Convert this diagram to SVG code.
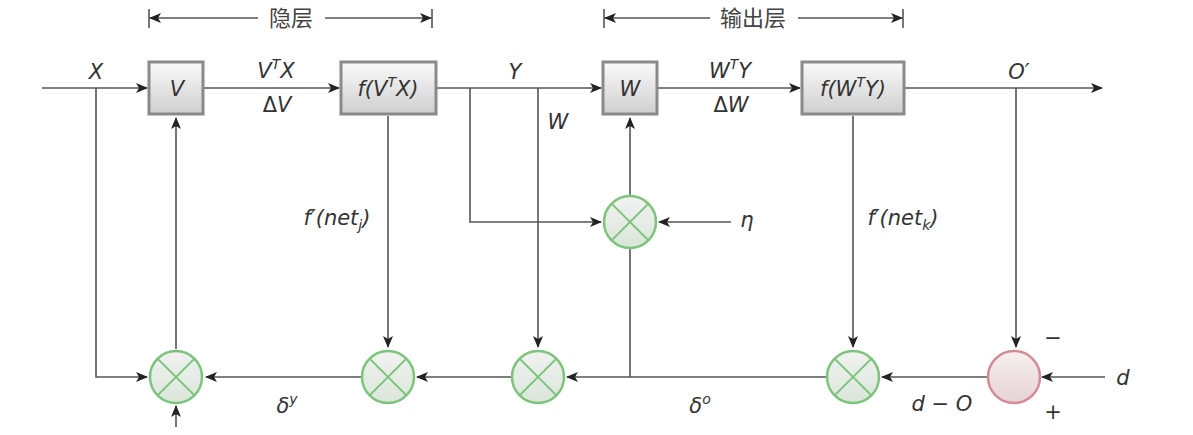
<svg xmlns="http://www.w3.org/2000/svg" width="1193" height="435" viewBox="0 0 1193 435">
<defs>
<linearGradient id="gbox" x1="0" y1="0" x2="0" y2="1"><stop offset="0" stop-color="#fafafa"/><stop offset="1" stop-color="#cfcfcf"/></linearGradient>
<linearGradient id="ggreen" x1="0" y1="0" x2="0" y2="1"><stop offset="0" stop-color="#f2f2f2"/><stop offset="1" stop-color="#d9e6d9"/></linearGradient>
<linearGradient id="gred" x1="0" y1="0" x2="0" y2="1"><stop offset="0" stop-color="#f7f0f0"/><stop offset="1" stop-color="#e6d3d6"/></linearGradient>
<marker id="ah" viewBox="0 0 12 10" refX="11" refY="5" markerWidth="12" markerHeight="10" markerUnits="userSpaceOnUse" orient="auto-start-reverse"><path d="M0,0 L12,5 L0,10 L3,5 Z" fill="#222"/></marker>
</defs>
<style>
.ln{stroke:#555;stroke-width:1.6;fill:none}
.box{fill:url(#gbox);stroke:#8a8a8a;stroke-width:3}
.mul{fill:url(#ggreen);stroke:#7cc47c;stroke-width:2.5}
.x{stroke:#7cc47c;stroke-width:2}
.sum{fill:url(#gred);stroke:#d48a95;stroke-width:2.5}
.t{font-family:"DejaVu Sans","Liberation Sans",sans-serif;font-style:italic;font-size:21px;fill:#333;text-anchor:middle}
.u{font-family:"DejaVu Sans","Liberation Sans",sans-serif;font-size:21px;fill:#333;text-anchor:middle}
.cjk{font-family:"Noto Sans CJK SC",sans-serif;font-size:22px;fill:#444;text-anchor:middle}
</style>
<g id="connectors">
<path class="ln" d="M149,9 V28 M432,9 V28"/>
<path class="ln" d="M258,18 H150" marker-end="url(#ah)"/>
<path class="ln" d="M325,18 H431" marker-end="url(#ah)"/>
<path class="ln" d="M604,9 V28 M903,9 V28"/>
<path class="ln" d="M710,18 H605" marker-end="url(#ah)"/>
<path class="ln" d="M798,18 H902" marker-end="url(#ah)"/>
<path class="ln" d="M42,88 H147" marker-end="url(#ah)"/>
<path class="ln" d="M204,88 H339" marker-end="url(#ah)"/>
<path class="ln" d="M437,88 H601" marker-end="url(#ah)"/>
<path class="ln" d="M658,88 H800" marker-end="url(#ah)"/>
<path class="ln" d="M905,88 H1102" marker-end="url(#ah)"/>
<path class="ln" d="M96,88 V377 H147" marker-end="url(#ah)"/>
<path class="ln" d="M470,88 V222 H601" marker-end="url(#ah)"/>
<path class="ln" d="M538,88 V347" marker-end="url(#ah)"/>
<path class="ln" d="M388,116 V347" marker-end="url(#ah)"/>
<path class="ln" d="M853,116 V347" marker-end="url(#ah)"/>
<path class="ln" d="M1016,88 V347" marker-end="url(#ah)"/>
<path class="ln" d="M176,349 V118" marker-end="url(#ah)"/>
<path class="ln" d="M630,196 V118" marker-end="url(#ah)"/>
<path class="ln" d="M630,248 V377"/>
<path class="ln" d="M731,222 H659" marker-end="url(#ah)"/>
<path class="ln" d="M1105,377 H1042" marker-end="url(#ah)"/>
<path class="ln" d="M987,377 H882" marker-end="url(#ah)"/>
<path class="ln" d="M826,377 H567" marker-end="url(#ah)"/>
<path class="ln" d="M512,377 H417" marker-end="url(#ah)"/>
<path class="ln" d="M362,377 H206" marker-end="url(#ah)"/>
<path class="ln" d="M176,427 V406" marker-end="url(#ah)"/>
</g>
<g id="labels-top">
<text class="cjk" x="291" y="26">隐层</text>
<text class="cjk" x="753" y="26">输出层</text>
</g>
<g id="node-V"><rect class="box" x="149" y="62" width="54" height="52"/><text class="t" x="177" y="96">V</text></g>
<g id="node-fV"><rect class="box" x="341" y="62" width="95" height="52"/><text class="t" x="388" y="96">f(V<tspan font-size="14" dy="-9">T</tspan><tspan dy="9">X)</tspan></text></g>
<g id="node-W"><rect class="box" x="603" y="62" width="54" height="52"/><text class="t" x="630" y="96">W</text></g>
<g id="node-fW"><rect class="box" x="802" y="62" width="102" height="52"/><text class="t" x="853" y="96">f(W<tspan font-size="14" dy="-9">T</tspan><tspan dy="9">Y)</tspan></text></g>
<g id="node-m1"><circle class="mul" cx="176" cy="377" r="26"/><path class="x" d="M157.6,358.6 L194.4,395.4 M194.4,358.6 L157.6,395.4"/></g>
<g id="node-m2"><circle class="mul" cx="388" cy="377" r="26"/><path class="x" d="M369.6,358.6 L406.4,395.4 M406.4,358.6 L369.6,395.4"/></g>
<g id="node-m3"><circle class="mul" cx="538" cy="377" r="26"/><path class="x" d="M519.6,358.6 L556.4,395.4 M556.4,358.6 L519.6,395.4"/></g>
<g id="node-m4"><circle class="mul" cx="853" cy="377" r="26"/><path class="x" d="M834.6,358.6 L871.4,395.4 M871.4,358.6 L834.6,395.4"/></g>
<g id="node-mid"><circle class="mul" cx="630" cy="222" r="26"/><path class="x" d="M611.6,203.6 L648.4,240.4 M648.4,203.6 L611.6,240.4"/></g>
<g id="node-sum"><circle class="sum" cx="1014" cy="377" r="26"/></g>
<g id="labels">
<text class="t" x="96" y="79">X</text>
<text class="t" x="276" y="78">V<tspan font-size="14" dy="-9">T</tspan><tspan dy="9">X</tspan></text>
<text class="u" x="277" y="112">Δ<tspan font-style="italic">V</tspan></text>
<text class="t" x="515" y="79">Y</text>
<text class="t" x="558" y="129">W</text>
<text class="t" x="730" y="78">W<tspan font-size="14" dy="-9">T</tspan><tspan dy="9">Y</tspan></text>
<text class="u" x="731" y="112">Δ<tspan font-style="italic">W</tspan></text>
<text class="t" x="1019" y="79">O′</text>
<text class="t" x="337" y="225">f′(net<tspan font-size="14" dy="5">j</tspan><tspan dy="-5">)</tspan></text>
<text class="t" x="903" y="225">f′(net<tspan font-size="14" dy="5">k</tspan><tspan dy="-5">)</tspan></text>
<text class="t" x="747" y="227">η</text>
<text class="t" x="287" y="413">δ<tspan font-size="14" dy="-9">y</tspan></text>
<text class="t" x="700" y="413">δ<tspan font-size="14" dy="-9">o</tspan></text>
<text class="t" x="942" y="411">d − O</text>
<text class="t" x="1123" y="385">d</text>
<text class="u" x="1053" y="345">−</text>
<text class="u" x="1053" y="419">+</text>
</g>
</svg>
